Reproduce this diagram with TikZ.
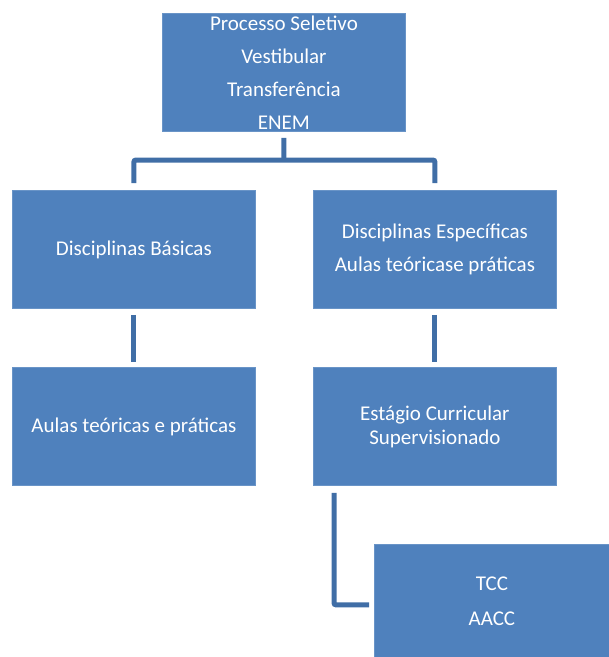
\documentclass[tikz,border=0pt]{standalone}
\usepackage{fontspec}
\setmainfont{Carlito}
\usetikzlibrary{positioning}
\definecolor{boxblue}{RGB}{79,129,189}
\definecolor{lineblue}{RGB}{64,110,166}

\begin{document}
\begin{tikzpicture}[x=1pt, y=-1pt,
  box/.style={rectangle, fill=boxblue, draw=boxblue!85!white, line width=0.8pt, text=white, inner sep=0pt,
    minimum width=243pt, minimum height=118pt, align=center, anchor=north west,
    font=\fontsize{21}{33}\selectfont},
  link/.style={draw=lineblue, line width=5pt, rounded corners=2pt}]
\useasboundingbox (0,0) rectangle (609,657);
\node[box] (proc) at (162,13) {Processo Seletivo\\Vestibular\\Transferência\\ENEM};
\node[box] (basic) at (12,190) {Disciplinas Básicas};
\node[box] (spec) at (313,190) {Disciplinas Específicas\\Aulas teóricase práticas};
\node[box] (aulas) at (12,367) {Aulas teóricas e práticas};
\node[box] (estag) at (313,367) {Estágio Curricular\\[-9pt]Supervisionado};
\node[box, minimum width=235pt, minimum height=113pt] (tcc) at (374,544) {TCC\\[2pt]AACC};
\coordinate (fork) at (284,160);
\draw[link] ([yshift=-6pt]proc.south) -- (fork);
\draw[link] ([yshift=7pt]basic.north) |- (fork) -| ([yshift=7pt]spec.north);
\draw[link] ([yshift=-6pt]basic.south) -- ([yshift=5pt]aulas.north);
\draw[link] ([yshift=-6pt]spec.south) -- ([yshift=5pt]estag.north);
\draw[link] ([xshift=21pt, yshift=-7pt]estag.south west) |- ([xshift=-5pt, yshift=-4pt]tcc.west);
\end{tikzpicture}
\end{document}
